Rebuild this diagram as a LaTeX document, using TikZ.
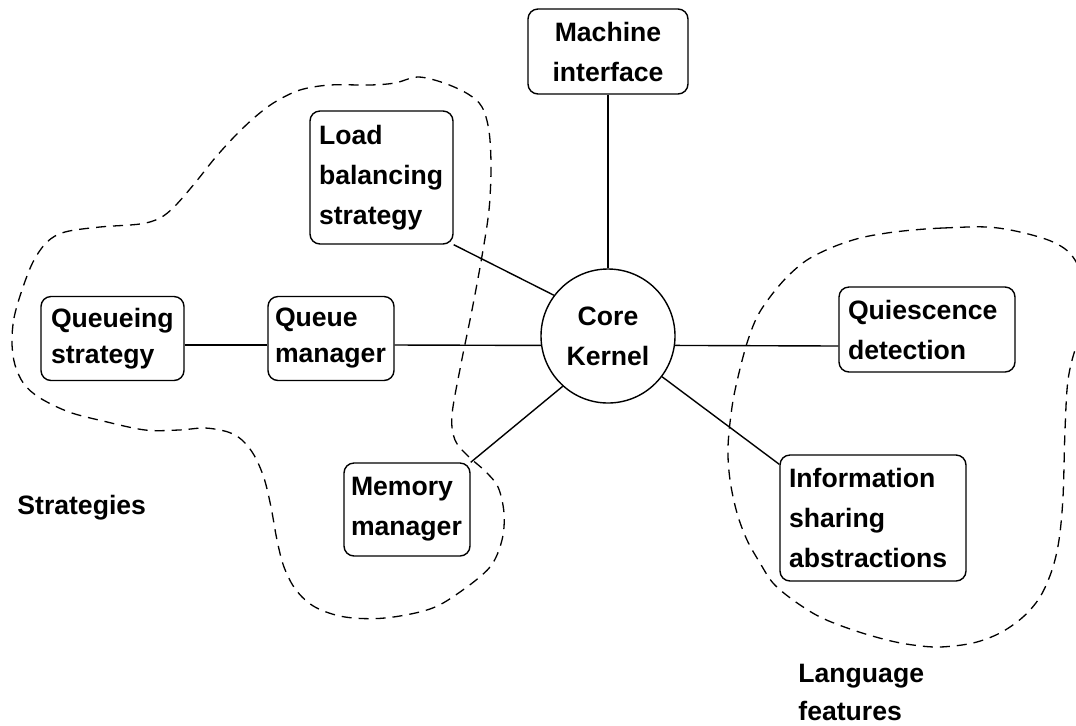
\documentclass[tikz,border=0pt]{standalone}
\usepackage{fontspec}
\setmainfont{Liberation Sans}
\begin{document}
\begin{tikzpicture}[x=0.5pt,y=-0.5pt,
  every node/.style={font=\fontsize{13.3}{20}\selectfont\bfseries},
  box/.style={draw, rounded corners=5pt, line width=0.7pt, align=left,
    inner ysep=0pt},
  kernel/.style={draw, circle, line width=0.7pt, align=center,
    minimum size=67pt, inner sep=0pt},
  link/.style={line width=0.7pt},
  group/.style={line width=0.65pt, dash pattern=on 5pt off 3.5pt},
  caption/.style={anchor=base west, inner sep=0pt, align=left}]
\useasboundingbox (0,0) rectangle (1076,725);

% modules
\node[box, align=center, text width=70pt, inner xsep=5pt, minimum height=42.5pt]
  (mach) at (608,51.5) {Machine\\interface};
\node[box, text width=62.5pt, inner xsep=4.5pt, minimum height=66.5pt]
  (load) at (381.5,177.5) {Load\\balancing\\strategy};
\node[box, text width=61.5pt, inner xsep=5pt, minimum height=42pt,
  font=\fontsize{13.3}{18}\selectfont\bfseries]
  (qstrat) at (112.5,338.5) {Queueing\\strategy};
\node[box, text width=56pt, inner xsep=3.5pt, minimum height=42pt,
  font=\fontsize{13.3}{18}\selectfont\bfseries]
  (qman) at (331,338.5) {Queue\\manager};
\node[box, text width=56pt, inner xsep=3.5pt, minimum height=46.5pt]
  (mem) at (407,509.5) {Memory\\manager};
\node[box, text width=79pt, inner xsep=4.5pt, minimum height=42.5pt]
  (quies) at (927,329.5) {Quiescence\\detection};
\node[box, text width=84pt, inner xsep=4.5pt, minimum height=63pt]
  (info) at (873,518) {Information\\sharing\\abstractions};
\node[kernel] (core) at (608,336) {Core\\Kernel};

% connections to the kernel
\draw[link] (mach) -- (core);
\draw[link] (load.south east) -- (core.143);
\draw[link] ([yshift=-3.25pt]qstrat.east) -- ([yshift=-3.25pt]qman.west);
\draw[link] ([yshift=-3.25pt]qman.east) -- (core.188);
\draw[link] (mem.north east) -- (core.228);
\draw[link] (core.352) -- ([yshift=-8.25pt]quies.west);
\draw[link] (core.323) -- ([yshift=-5pt]info.north west);

% group outlines
\draw[group] plot[smooth cycle, tension=0.55] coordinates {
  (12,343) (14,318) (22,290) (33,262) (47,242) (65,232) (100,227) (140,224)
  (160,218) (175,206) (195,183) (215,158) (235,136) (255,117) (275,102)
  (300,90) (330,85) (370,85) (395,83) (418,77) (444,83) (468,94) (482,107)
  (489,131) (491,167) (489,210) (482,256) (472,310) (461,364) (452,415)
  (455,440) (468,456) (485,471) (498,487) (504,513) (502,540) (490,567)
  (460,592) (430,609) (385,618) (345,617) (315,607) (296,590) (284,567)
  (277,540) (271,507) (264,478) (254,455) (242,440) (228,432) (205,428)
  (179,430) (145,430) (103,421) (69,412) (40,398) (24,384) (15,365)};
\begin{scope}
  \clip (0,0) rectangle (1076,725);
  \draw[group] plot[smooth cycle, tension=0.55] coordinates {
    (913,230) (943,228) (987,227) (1020,232) (1053,242) (1073,257)
    (1088,290) (1088,320) (1076,347) (1068,380) (1065,430) (1063,497)
    (1059,540) (1052,570) (1040,597) (1023,617) (1000,633) (973,643)
    (940,647) (913,645) (887,640) (853,630) (820,617) (793,600) (773,583)
    (760,563) (747,540) (737,513) (730,480) (728,447) (732,407) (738,377)
    (747,343) (757,317) (770,297) (787,277) (807,260) (833,247) (860,238)
    (887,233)};
\end{scope}

% group labels (base anchor sits on the last line)
\node[caption] (strat) at (17,514) {Strategies};
\node[caption, font=\fontsize{13.3}{19}\selectfont\bfseries]
  (lang) at (798,720) {Language\\features};
\end{tikzpicture}
\end{document}
